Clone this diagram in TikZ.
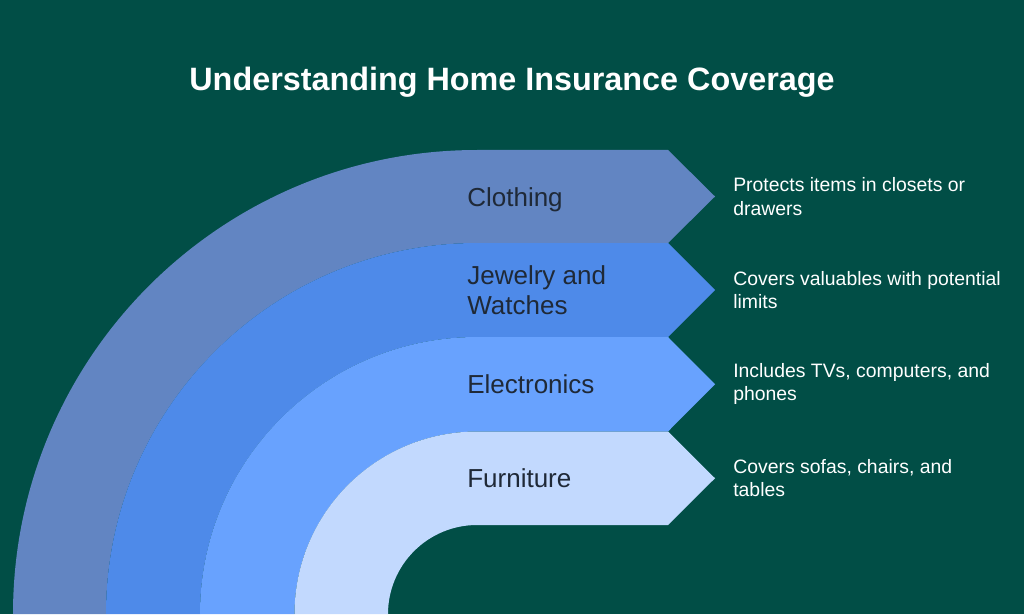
\documentclass[tikz,border=0pt]{standalone}
\usepackage{fontspec}
\setmainfont{Liberation Sans}
\definecolor{bgteal}{RGB}{1,78,70}
\definecolor{bandA}{RGB}{98,133,194}
\definecolor{bandB}{RGB}{78,138,233}
\definecolor{bandC}{RGB}{104,162,254}
\definecolor{bandD}{RGB}{194,217,254}
\definecolor{labeltext}{RGB}{31,41,55}
\tikzset{
	itemlabel/.style={anchor=west, align=left, inner sep=0pt, text=labeltext, font=\fontsize{18.5}{21}\selectfont},
	itemnote/.style={anchor=west, align=left, inner sep=0pt, text=white, font=\fontsize{13.8}{16.6}\selectfont}
}
\begin{document}
\begin{tikzpicture}[x=0.025cm,y=0.025cm]
				\fill[bgteal] (0,0) rectangle (1024,614);
				\useasboundingbox (0,0) rectangle (1024,614);
				\coordinate (O) at (477,0);
				\node[anchor=base,text=white,font=\bfseries\fontsize{23}{27}\selectfont] (title) at (512,523) {Understanding Home Insurance Coverage};
				\fill[bandA] (13,0) arc[start angle=180,end angle=90,radius=464] -- (668,464) -- (715,417.5) -- (668,371) -- (477,371) arc[start angle=90,end angle=180,radius=371] -- cycle;
				\fill[bandB] (106,0) arc[start angle=180,end angle=90,radius=371] -- (668,371) -- (715,324) -- (668,277) -- (477,277) arc[start angle=90,end angle=180,radius=277] -- cycle;
				\fill[bandC] (200,0) arc[start angle=180,end angle=90,radius=277] -- (668,277) -- (715,229.75) -- (668,182.5) -- (477,182.5) arc[start angle=90,end angle=180,radius=182.5] -- cycle;
				\fill[bandD] (294.5,0) arc[start angle=180,end angle=90,radius=182.5] -- (668,182.5) -- (715,135.75) -- (668,89) -- (477,89) arc[start angle=90,end angle=180,radius=89] -- cycle;
				\node[itemlabel] (clothing) at (467,414.5) {Clothing};
				\node[itemlabel] (jewelry) at (467,324) {Jewelry and\\Watches};
				\node[itemlabel] (electronics) at (467,229.75) {Electronics};
				\node[itemlabel] (furniture) at (467,135.75) {Furniture};
				\node[itemnote] (clothingnote) at (733,417.5) {Protects items in closets or\\drawers};
				\node[itemnote] (jewelrynote) at (733,324) {Covers valuables with potential\\limits};
				\node[itemnote] (electronicsnote) at (733,229.75) {Includes TVs, computers, and\\phones};
				\node[itemnote] (furniturenote) at (733,135.75) {Covers sofas, chairs, and\\tables};
			\end{tikzpicture}
\end{document}
